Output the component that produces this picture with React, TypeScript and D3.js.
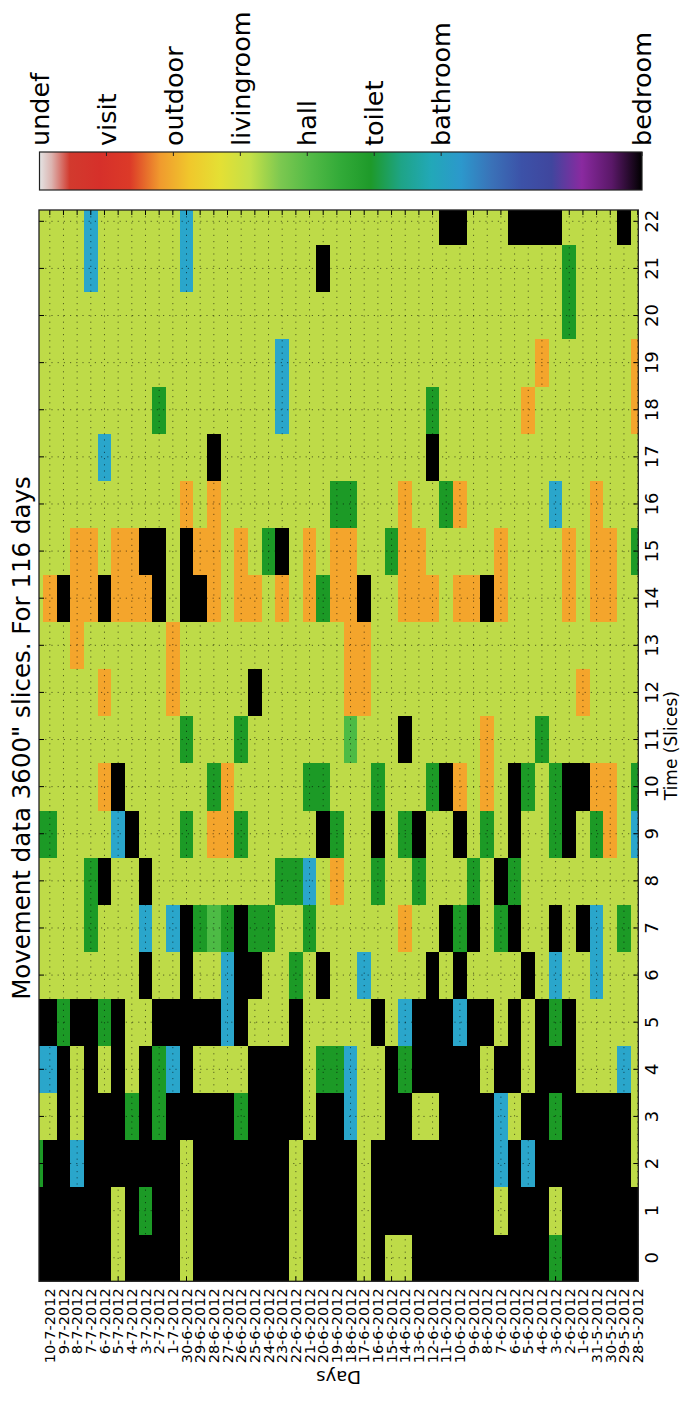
import React from "react";
import * as d3 from "d3";

// ---------- data ----------
// first entry is only partly visible at the left edge of the axes
const days: string[] = [
  "11-7-2012",
  "10-7-2012", "9-7-2012", "8-7-2012", "7-7-2012", "6-7-2012", "5-7-2012", "4-7-2012",
  "3-7-2012", "2-7-2012", "1-7-2012", "30-6-2012", "29-6-2012", "28-6-2012", "27-6-2012",
  "26-6-2012", "25-6-2012", "24-6-2012", "23-6-2012", "22-6-2012", "21-6-2012", "20-6-2012",
  "19-6-2012", "18-6-2012", "17-6-2012", "16-6-2012", "15-6-2012", "14-6-2012", "13-6-2012",
  "12-6-2012", "11-6-2012", "10-6-2012", "9-6-2012", "8-6-2012", "7-6-2012", "6-6-2012",
  "5-6-2012", "4-6-2012", "3-6-2012", "2-6-2012", "1-6-2012", "31-5-2012", "30-5-2012",
  "29-5-2012", "28-5-2012",
];

const timeSlices: number[] = [
  0, 1, 2, 3, 4, 5, 6, 7, 8, 9, 10, 11, 12, 13, 14, 15, 16, 17, 18, 19, 20, 21, 22,
];

const categoryNames: string[] = [
  "undef", "visit", "outdoor", "livingroom", "hall", "toilet", "bathroom", "bedroom",
];
const categoryValues: number[] = [0, 1, 2, 3, 4, 5, 6, 9];
const categoryCodes: string[] = ["U", "V", "O", "L", "H", "T", "W", "B"];
const categoryColors: string[] = [
  "#d0d0d0", "#d8302a", "#f4a52c", "#bedb48", "#4dbb45", "#1c9a26", "#2aa6cb", "#000000",
];

// colour bar (nipy_spectral_r, as printed)
const colormapPos: number[] = [
  0, 0.02, 0.05, 0.1, 0.15, 0.2, 0.25, 0.3, 0.35, 0.4, 0.45, 0.5, 0.55, 0.6, 0.65, 0.7,
  0.75, 0.8, 0.85, 0.9, 0.95, 1,
];
const colormapColors: string[] = [
  "#e4e4e4", "#dcb4b0", "#d23a2e", "#d6302a", "#dc3a28", "#f09a2e", "#f0c82c", "#e4e034",
  "#c4e048", "#7cc850", "#52ba46", "#32aa38", "#1e9a2a", "#1ea486", "#22a8b8", "#2c98cc",
  "#3a72b8", "#3c52a8", "#40469e", "#8a2aa0", "#5a1868", "#000000",
];

// rows = time slices 0..22 ; columns = days (first char is the partial day)
// L livingroom, B bedroom, O outdoor, T toilet, H hall, W bathroom
const slices: string[] = [
  "B|BBBBBLBBBB LBBBBBBBLB BBBLBLLBBB BBBBBBBTBB BBBB", // 0
  "B|BBBBBLBTBB LBBBBBBBLB BBBLBBBBBB BBBLBBBLBB BBBB", // 1
  "T|BBWBBBBBBB LBBBBBBBLB BBBLBBBBBB BBBWBWBBBB BBBL", // 2
  "L|LBLBBBTBTB BBBBTBBBBL BBWLLBBLLB BBBWLBBTBB BBBL", // 3
  "W|WBLBLBLBTW BLLLLBBBBL TTWLLBTBBB BBLBBLBBBL LLWL", // 4
  "B|BTBBTBLLBB BBBWBLLLBL LLLLBLWBBB WBBLBLBTBL LLLL", // 5
  "L|LLLLLLLBLL BLLWBBLLTL BLLWLLLLBL BLLLLBLWLL WLLL", // 6
  "L|LLLTLLLWLW BTHTBTTLLT LLLLLLOLLB TBLTBLLBLB WLTL", // 7
  "L|LLLTBLLBLL LLLLLLLTTW LOLLTLLTLL LTLBTLLLLL LLLL", // 8
  "T|TLLLLWBLLL TLOOTLLLLL BTLLBLTBLL BLTLBLLTBL TOLW", // 9
  "L|LLLLOBLLLL LLTOLLLLLT TLLLTLLLTB OLOLBTLTBB OOLT", // 10
  "L|LLLLLLLLLL TLLLTLLLLL LLHLLLBLLL LLOLLLTLLL LLLL", // 11
  "L|LLLLOLLLLO LLLLLBLLLL LLOOLLLLLL LLLLLLLLLO LLLL", // 12
  "L|LLOLLLLLLO LLLLLLLLLL LLOOLLLLLL LLLLLLLLLL LLLL", // 13
  "L|OBOOBOOOBL BBOLOOLOLO TOOBLLOOOL OOBOLLLLOL OOLL", // 14
  "L|LLOOLOOBBL BOOLOLTBLO LOOLLTOOLL LLLOLLLLOL OOLT", // 15
  "L|LLLLLLLLLL OLOLLLLLLL LTTLLLOLLT OLLLLLLWLL OLLL", // 16
  "L|LLLLWLLLLL LLBLLLLLLL LLLLLLLLBL LLLLLLLLLL LLLL", // 17
  "L|LLLLLLLLTL LLLLLLLWLL LLLLLLLLTL LLLLLOLLLL LLLO", // 18
  "L|LLLLLLLLLL LLLLLLLWLL LLLLLLLLLL LLLLLLOLLL LLLO", // 19
  "L|LLLLLLLLLL LLLLLLLLLL LLLLLLLLLL LLLLLLLLTL LLLL", // 20
  "L|LLLWLLLLLL WLLLLLLLLL BLLLLLLLLL LLLLLLLLTL LLLL", // 21
  "L|LLLWLLLLLL WLLLLLLLLL LLLLLLLLLB BLLLBBBBLL LLBL", // 22
];

const title = "Movement data 3600\" slices. For 116 days";

export default function App() {
  const W = 687;
  const H = 1409;
  const plot = { left: 39, right: 638.3, top: 210, bottom: 1281.3 };
  const font = "'DejaVu Sans', Verdana, sans-serif";

  const x = d3.scaleLinear().domain([-0.79, 43.05]).range([plot.left, plot.right]);
  const y = d3.scaleLinear().domain([-0.5, 22.24]).range([plot.bottom, plot.top]);
  const cb = d3.scaleLinear().domain([0, 9]).range([39.5, 642]);
  const cbTop = 152;
  const cbBottom = 190;

  const colorOf = new Map<string, string>(categoryCodes.map((c, i) => [c, categoryColors[i]]));

  const cells: React.ReactElement[] = [];
  slices.forEach((s, r) => {
    const codes = s.replace(/[|\s]/g, "").split("");
    codes.forEach((c, i) => {
      const k = i - 1;
      const x0 = x(k - 0.5);
      const x1 = x(k + 0.5);
      const y0 = y(r + 0.5);
      const y1 = y(r - 0.5);
      cells.push(
        <rect
          key={`c-${r}-${i}`}
          x={x0}
          y={y0}
          width={x1 - x0 + 0.4}
          height={y1 - y0 + 0.4}
          fill={colorOf.get(c) || "#fff"}
        />
      );
    });
  });

  const [xd0, xd1] = x.domain();
  const dayTicks = days
    .map((d, i) => ({ label: d, k: i - 1 }))
    .filter((t) => t.k >= xd0 && t.k <= xd1 + 0.001);

  const gridStyle = {
    stroke: "#000",
    strokeOpacity: 0.55,
    strokeWidth: 1,
    strokeDasharray: "1.2,5",
  };

  return (
    <svg
      width={W}
      height={H}
      viewBox={`0 0 ${W} ${H}`}
      style={{ position: "absolute", left: 0, top: 0, background: "#fff" }}
      fontFamily={font}
    >
      <defs>
        <clipPath id="plotClip">
          <rect x={plot.left} y={plot.top} width={plot.right - plot.left} height={plot.bottom - plot.top} />
        </clipPath>
        <linearGradient id="cbGrad" x1="0" x2="1" y1="0" y2="0">
          {colormapPos.map((p, i) => (
            <stop key={i} offset={`${p * 100}%`} stopColor={colormapColors[i]} />
          ))}
        </linearGradient>
      </defs>
      <rect x={0} y={0} width={W} height={H} fill="#fff" />

      {/* colour bar */}
      <rect
        x={cb(0)}
        y={cbTop}
        width={cb(9) - cb(0)}
        height={cbBottom - cbTop}
        fill="url(#cbGrad)"
        stroke="#222"
        strokeWidth={1.2}
      />
      {categoryValues.map((v, i) => (
        <g key={`cbt-${i}`}>
          <line x1={cb(v)} x2={cb(v)} y1={cbTop} y2={cbTop + 4} stroke="#222" strokeWidth={1} />
          <text
            transform={`translate(${cb(v)},${cbTop - 6}) rotate(-90)`}
            textAnchor="start"
            dy="0.36em"
            fontSize={25.5}
            fill="#000"
          >
            {categoryNames[i]}
          </text>
        </g>
      ))}

      {/* heat map */}
      <g clipPath="url(#plotClip)" shapeRendering="crispEdges">
        {cells}
      </g>

      {/* grid */}
      <g clipPath="url(#plotClip)">
        {dayTicks.map((t) => (
          <line key={`gx-${t.k}`} x1={x(t.k)} x2={x(t.k)} y1={plot.top} y2={plot.bottom} style={gridStyle} />
        ))}
        {timeSlices.map((t) => (
          <line key={`gy-${t}`} x1={plot.left} x2={plot.right} y1={y(t)} y2={y(t)} style={gridStyle} />
        ))}
      </g>

      {/* ticks */}
      {dayTicks.map((t) => (
        <g key={`tx-${t.k}`} stroke="#000" strokeWidth={1}>
          <line x1={x(t.k)} x2={x(t.k)} y1={plot.top} y2={plot.top + 5} />
          <line x1={x(t.k)} x2={x(t.k)} y1={plot.bottom - 5} y2={plot.bottom} />
        </g>
      ))}
      {timeSlices.map((t) => (
        <g key={`ty-${t}`} stroke="#000" strokeWidth={1}>
          <line x1={plot.left} x2={plot.left + 5} y1={y(t)} y2={y(t)} />
          <line x1={plot.right - 5} x2={plot.right} y1={y(t)} y2={y(t)} />
        </g>
      ))}

      {/* frame */}
      <rect
        x={plot.left}
        y={plot.top}
        width={plot.right - plot.left}
        height={plot.bottom - plot.top}
        fill="none"
        stroke="#222"
        strokeWidth={1.3}
      />

      {/* time tick labels */}
      {timeSlices.map((t) => (
        <text
          key={`tl-${t}`}
          transform={`translate(${plot.right + 20},${y(t)}) rotate(-90)`}
          textAnchor="middle"
          fontSize={18}
          fill="#000"
        >
          {t}
        </text>
      ))}
      <text
        transform={`translate(${plot.right + 39},${(plot.top + plot.bottom) / 2}) rotate(-90)`}
        textAnchor="middle"
        fontSize={17}
        fill="#000"
      >
        Time (Slices)
      </text>

      {/* day tick labels */}
      {dayTicks.map((t) => (
        <text
          key={`dl-${t.k}`}
          transform={`translate(${x(t.k)},${plot.bottom + 7}) rotate(-90)`}
          textAnchor="end"
          dy="0.36em"
          fontSize={14.5}
          fill="#000"
        >
          {t.label}
        </text>
      ))}
      <text
        transform={`translate(${(plot.left + plot.right) / 2},1371) rotate(180)`}
        textAnchor="middle"
        fontSize={18}
        fill="#000"
      >
        Days
      </text>

      {/* title */}
      <text
        transform={`translate(30,738) rotate(-90)`}
        textAnchor="middle"
        fontSize={24.5}
        fill="#000"
      >
        {title}
      </text>
    </svg>
  );
}
